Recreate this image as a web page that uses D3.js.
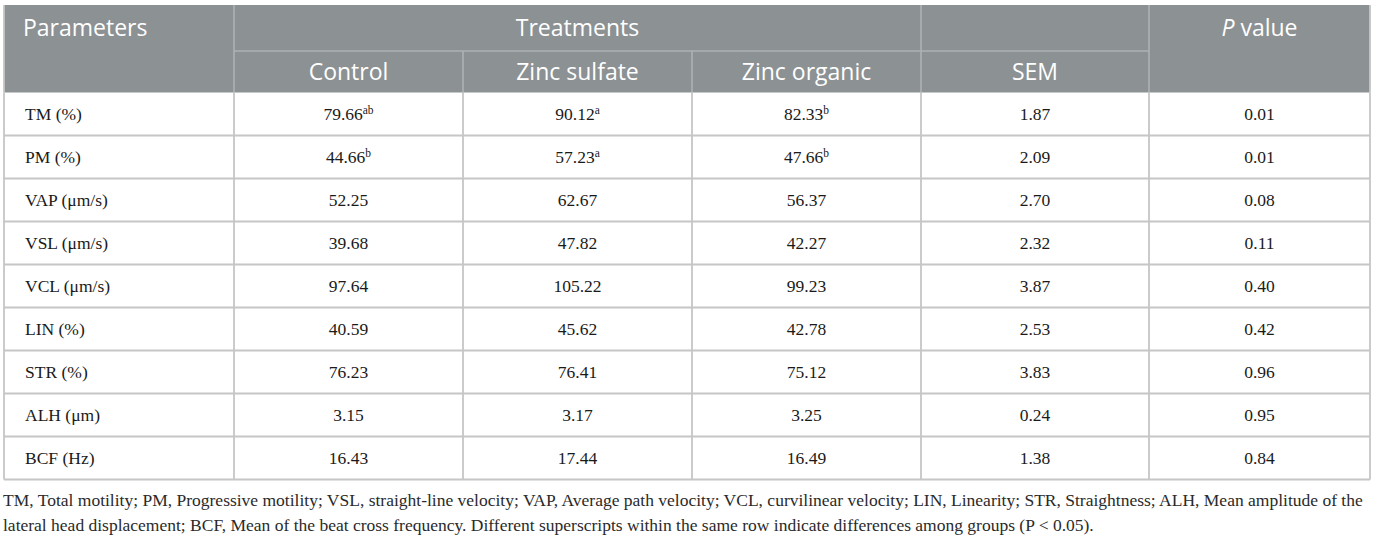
<!DOCTYPE html>
<html>
<head>
<meta charset="utf-8">
<script src="https://cdn.jsdelivr.net/npm/d3@7"></script>
<style>
  body { margin: 0; background: #fff; }
</style>
</head>
<body>
<div class="sperm-table"></div>
<script>
// table data
const parameters = ["TM (%)", "PM (%)", "VAP (μm/s)", "VSL (μm/s)", "VCL (μm/s)", "LIN (%)", "STR (%)", "ALH (μm)", "BCF (Hz)"];
const control        = [79.66, 44.66, 52.25, 39.68, 97.64, 40.59, 76.23, 3.15, 16.43];
const controlSup     = ["ab", "b", "", "", "", "", "", "", ""];
const zincSulfate    = [90.12, 57.23, 62.67, 47.82, 105.22, 45.62, 76.41, 3.17, 17.44];
const zincSulfateSup = ["a", "a", "", "", "", "", "", "", ""];
const zincOrganic    = [82.33, 47.66, 56.37, 42.27, 99.23, 42.78, 75.12, 3.25, 16.49];
const zincOrganicSup = ["b", "b", "", "", "", "", "", "", ""];
const sem            = [1.87, 2.09, 2.70, 2.32, 3.87, 2.53, 3.83, 0.24, 1.38];
const pValue         = [0.01, 0.01, 0.08, 0.11, 0.40, 0.42, 0.96, 0.95, 0.84];
const treatments = ["Control", "Zinc sulfate", "Zinc organic"];
const footnote = [
  "TM, Total motility; PM, Progressive motility; VSL, straight-line velocity; VAP, Average path velocity; VCL, curvilinear velocity; LIN, Linearity; STR, Straightness; ALH, Mean amplitude of the",
  "lateral head displacement; BCF, Mean of the beat cross frequency. Different superscripts within the same row indicate differences among groups (P < 0.05)."
];

// layout
const width = 1375, height = 537;
const colEdges = [4, 234, 463, 692, 921, 1149, 1370];
const headTop = 5, headMid = 51, headBottom = 92.5, tableBottom = 479.5;
const headFill = "#8c9194", headLine = "#aeb2b4", bodyLine = "#c6c6c6";
const sans = "'Open Sans', 'Noto Sans', sans-serif";
const serif = "'Liberation Serif', 'DejaVu Serif', serif";

const svg = d3.select(".sperm-table")
  .append("svg")
  .attr("width", width)
  .attr("height", height);

const y = d3.scaleBand()
  .domain(parameters)
  .range([headBottom, tableBottom])
  .paddingInner(0);

const colCenter = i => (colEdges[i] + colEdges[i + 1]) / 2;

// header background
svg.append("rect")
  .attr("x", colEdges[0]).attr("y", headTop)
  .attr("width", colEdges[6] - colEdges[0])
  .attr("height", headBottom - headTop)
  .attr("fill", headFill);

// header lines
const hdr = svg.append("g").attr("stroke", headLine).attr("stroke-width", 1.6);
hdr.append("line").attr("x1", colEdges[1]).attr("x2", colEdges[5])
  .attr("y1", headMid).attr("y2", headMid);
[1, 4, 5].forEach(i => hdr.append("line")
  .attr("x1", colEdges[i]).attr("x2", colEdges[i])
  .attr("y1", headTop).attr("y2", headBottom));
[2, 3].forEach(i => hdr.append("line")
  .attr("x1", colEdges[i]).attr("x2", colEdges[i])
  .attr("y1", headMid).attr("y2", headBottom));

// header text
const headText = svg.append("g")
  .attr("fill", "#fff")
  .attr("font-family", sans)
  .attr("font-size", 23);
const row1 = (headTop + headMid) / 2, row2 = (headMid + headBottom) / 2;
headText.append("text").attr("x", 23).attr("y", row1).attr("dy", "0.36em").text("Parameters");
headText.append("text").attr("x", (colEdges[1] + colEdges[4]) / 2).attr("y", row1)
  .attr("dy", "0.36em").attr("text-anchor", "middle").text("Treatments");
const pv = headText.append("text").attr("x", colCenter(5)).attr("y", row1)
  .attr("dy", "0.36em").attr("text-anchor", "middle");
pv.append("tspan").attr("font-style", "italic").text("P");
pv.append("tspan").text(" value");
treatments.concat(["SEM"]).forEach((t, i) => {
  headText.append("text").attr("x", colCenter(i + 1)).attr("y", row2)
    .attr("dy", "0.36em").attr("text-anchor", "middle").text(t);
});

// body grid
const grid = svg.append("g").attr("stroke", bodyLine).attr("stroke-width", 1.8);
grid.selectAll(".hline")
  .data(parameters.slice(1))
  .join("line")
  .attr("x1", colEdges[0]).attr("x2", colEdges[6])
  .attr("y1", d => y(d)).attr("y2", d => y(d));
grid.append("line").attr("x1", colEdges[0]).attr("x2", colEdges[6])
  .attr("y1", tableBottom).attr("y2", tableBottom);
grid.selectAll(".vline")
  .data(colEdges)
  .join("line")
  .attr("x1", d => d).attr("x2", d => d)
  .attr("y1", headBottom).attr("y2", tableBottom);
grid.append("line").attr("x1", colEdges[0]).attr("x2", colEdges[0])
  .attr("y1", headTop).attr("y2", headBottom);
grid.append("line").attr("x1", colEdges[6]).attr("x2", colEdges[6])
  .attr("y1", headTop).attr("y2", headBottom);

// body cells
const cols = [
  [control, controlSup],
  [zincSulfate, zincSulfateSup],
  [zincOrganic, zincOrganicSup],
  [sem, null],
  [pValue, null]
];
const body = svg.append("g")
  .attr("fill", "#1a1a1a")
  .attr("font-family", serif)
  .attr("font-size", 17.5);

body.selectAll(".param")
  .data(parameters)
  .join("text")
  .attr("x", 25)
  .attr("y", d => y(d) + y.bandwidth() / 2)
  .attr("dy", "0.35em")
  .text(d => d);

cols.forEach(([vals, sups], ci) => {
  parameters.forEach((p, ri) => {
    const t = body.append("text")
      .attr("x", colCenter(ci + 1))
      .attr("y", y(p) + y.bandwidth() / 2)
      .attr("dy", "0.35em")
      .attr("text-anchor", "middle");
    t.append("tspan").text(vals[ri].toFixed(2));
    if (sups && sups[ri]) {
      t.append("tspan")
        .attr("font-size", 11.5)
        .attr("dy", "-0.55em")
        .text(sups[ri]);
    }
  });
});

// footnote
svg.append("g")
  .attr("fill", "#2a2a2a")
  .attr("font-family", serif)
  .attr("font-size", 17.5)
  .selectAll("text")
  .data(footnote)
  .join("text")
  .attr("x", 3)
  .attr("y", (d, i) => 500 + i * 25)
  .attr("dy", "0.35em")
  .text(d => d);
</script>
</body>
</html>
